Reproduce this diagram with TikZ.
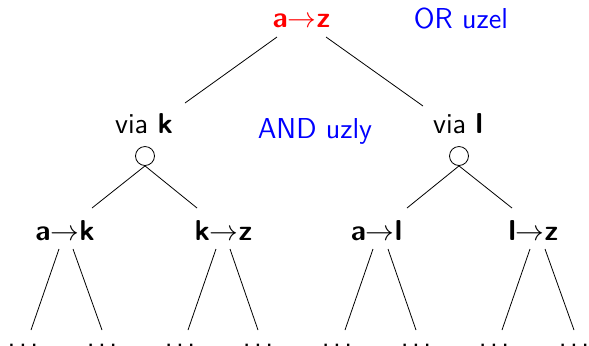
\documentclass[tikz,border=0pt]{standalone}
\usepackage{fontspec}
\begin{document}
\begin{tikzpicture}[x=0.5pt,y=-0.5pt,
  every node/.style={font=\fontsize{14.4}{17}\selectfont\sffamily, inner sep=0pt, anchor=base},
  hint/.style={text=blue},
  goal/.style={text=red},
  andnode/.style={circle, draw, line width=0.4pt, minimum size=9.5pt, anchor=center},
  link/.style={line width=0.4pt}
]
\useasboundingbox (0,0) rectangle (589,345);
% labels
\node[goal] (root) at (301.5,27) {\bfseries a$\rightarrow$z};
\node[hint] (or) at (461,28) {OR uzel};
\node (vk) at (144,133) {via \textbf{k}};
\node[hint] (and) at (315,138) {AND uzly};
\node (vl) at (458,133) {via \textbf{l}};
\node[andnode] (ck) at (145,156) {};
\node[andnode] (cl) at (459,156) {};
\node (ak) at (65,240) {\bfseries a$\rightarrow$k};
\node (kz) at (223.5,240) {\bfseries k$\rightarrow$z};
\node (al) at (376.5,240) {\bfseries a$\rightarrow$l};
\node (lz) at (533.5,240) {\bfseries l$\rightarrow$z};
\foreach \n/\x in {d1/23,d2/102,d3/180,d4/258,d5/337,d6/416,d7/494,d8/574}
  \node (\n) at (\x,346.5) {.\kern1.75pt.\kern1.75pt.};
% connectors
\draw[link] ([shift={(-24.5,10)}]root.base) -- ([shift={(41,-30)}]vk.base);
\draw[link] ([shift={(24.5,10)}]root.base) -- ([shift={(-35,-27)}]vl.base);
\draw[link] (ck.south) -- ([shift={(27,-32)}]ak.base);
\draw[link] (ck.south) -- ([shift={(-26.5,-32)}]kz.base);
\draw[link] (cl.south) -- ([shift={(30.5,-32)}]al.base);
\draw[link] (cl.south) -- ([shift={(-21.5,-32)}]lz.base);
\draw[link] ([shift={(-6,9)}]ak.base) -- ([shift={(8,-16.5)}]d1.base);
\draw[link] ([shift={(8,9)}]ak.base) -- ([shift={(0,-16.5)}]d2.base);
\draw[link] ([shift={(-7.5,9)}]kz.base) -- ([shift={(8,-16.5)}]d3.base);
\draw[link] ([shift={(6.5,9)}]kz.base) -- ([shift={(0,-16.5)}]d4.base);
\draw[link] ([shift={(-3.5,9)}]al.base) -- ([shift={(8,-16.5)}]d5.base);
\draw[link] ([shift={(11.5,9)}]al.base) -- ([shift={(0,-16.5)}]d6.base);
\draw[link] ([shift={(-3.5,9)}]lz.base) -- ([shift={(8,-16.5)}]d7.base);
\draw[link] ([shift={(11.5,9)}]lz.base) -- ([shift={(0,-16.5)}]d8.base);
\end{tikzpicture}
\end{document}
